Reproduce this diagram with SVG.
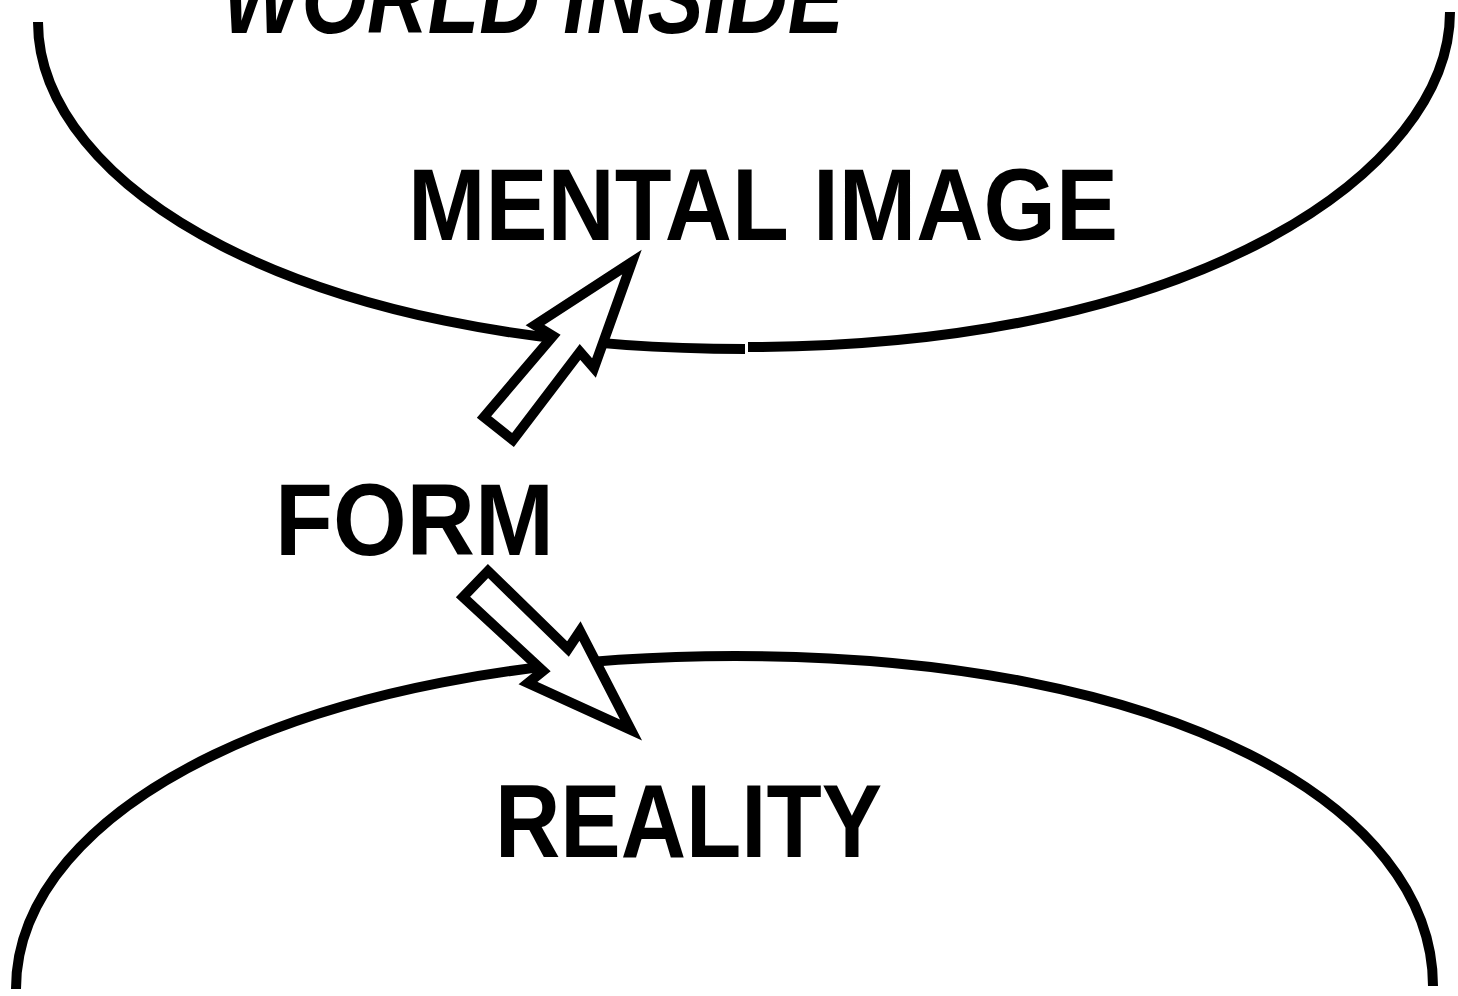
<svg xmlns="http://www.w3.org/2000/svg" width="1458" height="996" viewBox="0 0 1458 996">
<style>
.curve{fill:none;stroke:#000;stroke-width:10;stroke-linecap:butt}
.arrow{fill:#fff;stroke:#000;stroke-width:10;stroke-linejoin:miter;stroke-miterlimit:10}
.lbl{font-family:"Liberation Sans",Arial,sans-serif;font-weight:bold;fill:#000}
</style>
<rect width="1458" height="996" fill="#fff"/>
<g id="world-inside">
<path class="curve" d="M38,22 C38,184 295,349 745,349"/>
<path class="curve" d="M748,347 C1198,347 1450,170 1450,12"/>
<text class="lbl" x="222" y="33" font-size="102" font-style="italic" textLength="622" lengthAdjust="spacingAndGlyphs">WORLD INSIDE</text>
</g>
<g id="mental-image">
<text class="lbl" x="408" y="240" font-size="102" textLength="710" lengthAdjust="spacingAndGlyphs">MENTAL IMAGE</text>
</g>
<g id="reality">
<path class="curve" d="M16,989 C16,808 305,656 735,656 C1175,656 1433,808 1433,986"/>
<text class="lbl" x="495" y="857" font-size="104" textLength="387" lengthAdjust="spacingAndGlyphs">REALITY</text>
</g>
<g id="form">
<text class="lbl" x="275" y="555" font-size="102" textLength="279" lengthAdjust="spacingAndGlyphs">FORM</text>
</g>
<g id="connectors">
<polygon class="arrow" points="632,262 535,325 553,336 484,417 513,440 580,352 594,368"/>
<polygon class="arrow" points="488,571 568,649 580,631 631,730 528,683 543,671 463,597"/>
</g>
</svg>
